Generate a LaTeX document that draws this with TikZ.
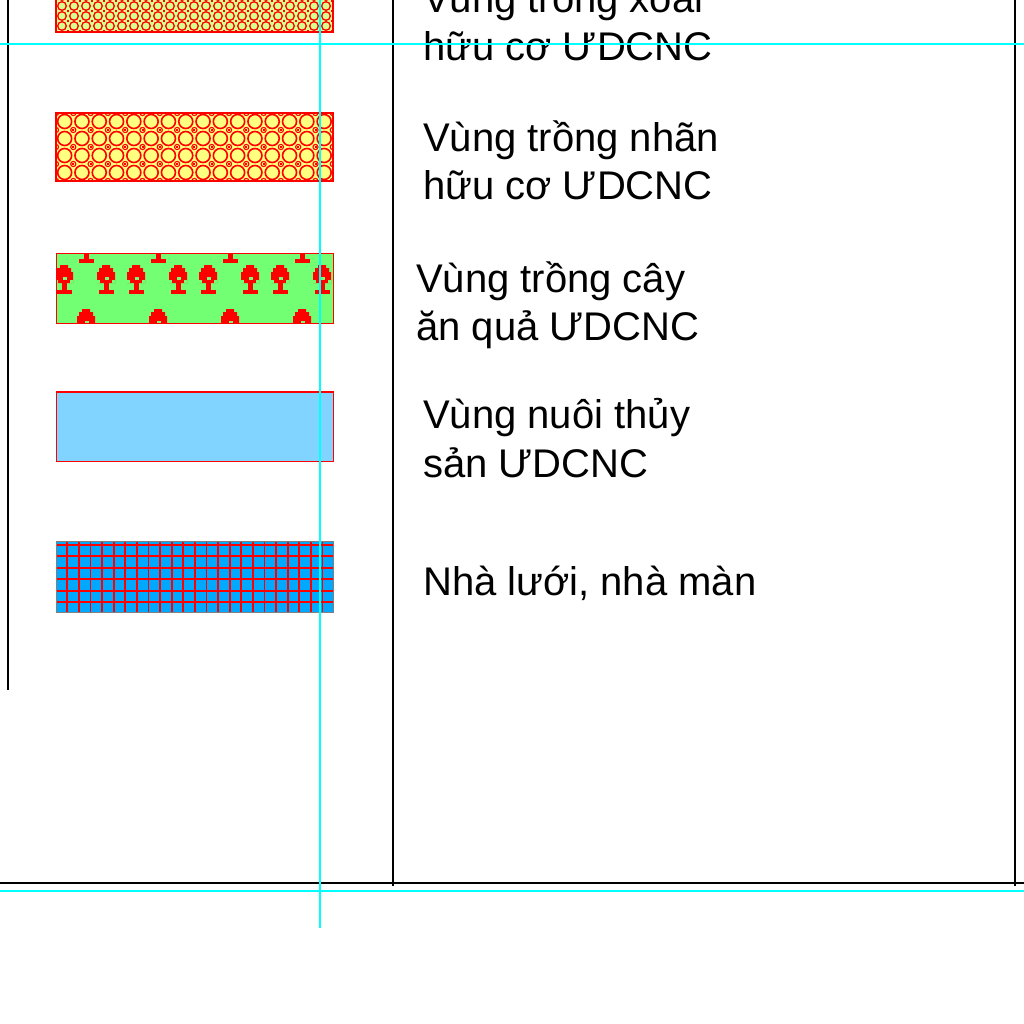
\documentclass[tikz,border=0pt]{standalone}
\usepackage{fontspec}
\setmainfont{Liberation Sans}
\definecolor{swA}{HTML}{D6FF8E}
\definecolor{swB}{HTML}{FFFF80}
\definecolor{swC}{HTML}{73FF73}
\definecolor{swD}{HTML}{80D4FF}
\definecolor{swE}{HTML}{00A8FF}
\definecolor{guidecyan}{HTML}{00FFFF}
\begin{document}
\begin{tikzpicture}[x=1pt,y=-1pt,
  blk/.style={line width=2pt,black},
  guide/.style={guidecyan,line width=1.6pt},
  lbl/.style={anchor=base west,inner sep=0pt,font=\fontsize{40}{48}\selectfont},
  redline/.style={red,line width=1.4pt},
  tree/.pic={
    \fill[red] (-4,0) -- (4,0) -- (4,3) -- (7,3) -- (7,7) -- (9,7) -- (9,18) -- (-9,18) -- (-9,7) -- (-7,7) -- (-7,3) -- (-4,3) -- cycle;
    \fill[red] (-2.5,18) rectangle (2.5,25);
    \fill[red] (-7.5,25) rectangle (7.5,28.5);
    \fill[swC] (-1,12) rectangle (3,15);
    \fill[swC] (-9,15) rectangle (-6,18);
    \fill[swC] (6,15) rectangle (9,18);
  }]
\useasboundingbox (0,0) rectangle (1024,1024);

% ---- swatch 1 (cut at top)
\begin{scope}
  \clip (56,-20) rectangle (333,32);
  \fill[swA] (56,-20) rectangle (333,32);
  \foreach \i in {0,...,23}{
    \foreach \j in {0,...,5}{
      \draw[red,line width=1.3pt] (62+12*\i,26-10*\j) circle (4.3);
      \fill[red] (55+12*\i,30-10*\j) rectangle (57+12*\i,32-10*\j);
    }
  }
\end{scope}
\draw[redline] (56,-20) -- (56,32) -- (333,32) -- (333,-20);

% ---- swatch 2
\begin{scope}
  \clip (56,113) rectangle (333,181);
  \fill[swB] (56,113) rectangle (333,181);
  \foreach \i in {0,...,16}{
    \foreach \j in {0,...,4}{
      \draw[red,line width=1.6pt] (64.65+17.3*\i,121.5+17*\j) circle (7);
      \draw[red,line width=1.1pt] (56+17.3*\i,113+17*\j) circle (2.6);
      \fill[red] (55+17.3*\i,112+17*\j) rectangle (57+17.3*\i,114+17*\j);
    }
  }
\end{scope}
\draw[redline] (56,113) rectangle (333,181);

% ---- swatch 3 (trees)
\begin{scope}
  \clip (56,253) rectangle (333,323);
  \fill[swC] (56,253) rectangle (333,323);
  \foreach \i in {0,...,4}{
    \pic at (86+72*\i,234) {tree};
    \pic at (86+72*\i,309) {tree};
    \pic at (64+72*\i,265) {tree};
    \pic at (106+72*\i,265) {tree};
  }
\end{scope}
\draw[red,line width=1pt] (56,253) rectangle (333,323);

% ---- swatch 4
\fill[swD] (56,391) rectangle (333,461);
\draw[red,line width=1pt] (56,391) rectangle (333,461);
\draw[red,line width=2.6pt] (56,392) -- (333,392);

% ---- swatch 5 (net house grid)
\begin{scope}
  \clip (56,541) rectangle (333,612);
  \fill[swE] (56,541) rectangle (333,612);
  \foreach \i in {0,...,23}{
    \draw[red,line width=1.9pt] (67.3+11.6*\i,541) -- (67.3+11.6*\i,612);
  }
  \foreach \j in {0,...,5}{
    \draw[red,line width=1.9pt] (56,545+11.4*\j) -- (333,545+11.4*\j);
  }
\end{scope}
\draw[gray,line width=1pt] (56,541) rectangle (333,612);

% ---- labels
\node[lbl] (l1a) at (423,12.5) {Vùng trồng xoài};
\node[lbl] (l1b) at (423,61) {hữu cơ ƯDCNC};
\node[lbl] (l2a) at (423,152) {Vùng trồng nhãn};
\node[lbl] (l2b) at (423,200) {hữu cơ ƯDCNC};
\node[lbl] (l3a) at (416,292) {Vùng trồng cây};
\node[lbl] (l3b) at (416,340) {ăn quả ƯDCNC};
\node[lbl] (l4a) at (423,428) {Vùng nuôi thủy};
\node[lbl] (l4b) at (423,477) {sản ƯDCNC};
\node[lbl] (l5) at (423,595) {Nhà lưới, nhà màn};

% ---- frame lines
\draw[blk] (8,0) -- (8,690);
\draw[blk] (393,0) -- (393,886);
\draw[blk] (1015,0) -- (1015,886);
\draw[blk] (0,883) -- (1024,883);

% ---- guide lines
\draw[guide] (0,44) -- (1024,44);
\draw[guide] (0,891) -- (1024,891);
\draw[guidecyan,line width=1.2pt] (320,0) -- (320,928);
\end{tikzpicture}
\end{document}
